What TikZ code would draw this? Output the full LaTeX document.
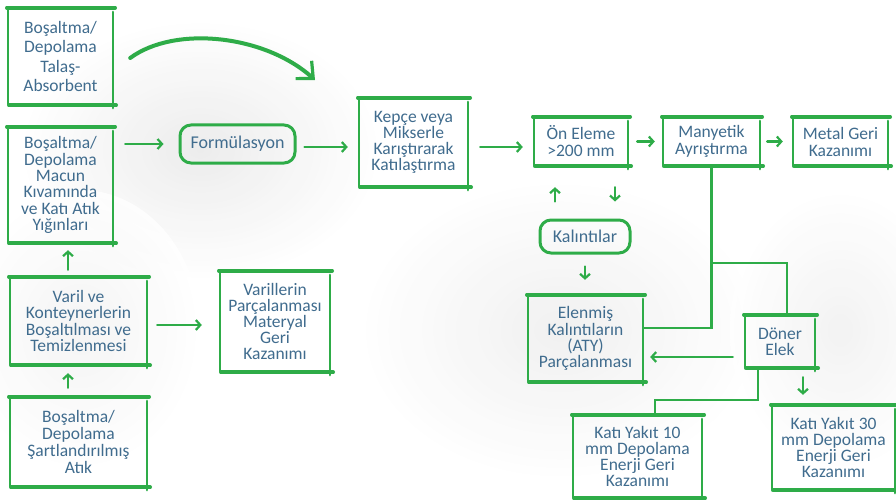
\documentclass[tikz,border=0pt]{standalone}
\usepackage{fontspec}
\setmainfont{Carlito}
\usetikzlibrary{arrows.meta,calc}
\definecolor{leaf}{RGB}{46,172,72}
\definecolor{ink}{RGB}{64,108,142}
\begin{document}
\begin{tikzpicture}[x=1pt,y=-1pt,
  every node/.style={text=ink},
  box/.style={draw=none, inner sep=0pt, align=center},
  pill/.style={draw=leaf, line width=3pt, rounded corners=11pt, inner sep=0pt, align=center, font=\fontsize{18}{16}\selectfont},
  hedge/.style={draw=leaf, line width=3.6pt, line cap=round},
  vedge/.style={draw=leaf, line width=2.2pt, line cap=round},
  link/.style={draw=leaf, line width=2.4pt},
  arr/.style={draw=leaf, line width=2.4pt, line cap=round, -{Straight Barb[length=4.5pt,width=10pt,line width=2.2pt]}},
  bigarr/.style={draw=leaf, line width=4pt, line cap=round, -{Straight Barb[length=13pt,width=24pt,line width=3.2pt]}},
  lead/.style={font=\fontsize{17.5}{#1}\selectfont}
]
\useasboundingbox (0,0) rectangle (896,500);
% page and soft grey background patches
\begin{scope}
\clip (0,0) rectangle (896,500);
\fill[white] (0,0) rectangle (896,500);
\shade[inner color=black!9, outer color=white, opacity=0.8] (200,150) ellipse (180 and 130);
\shade[inner color=black!7, outer color=white, opacity=0.8] (560,330) ellipse (200 and 150);
\shade[inner color=black!6, outer color=white, opacity=0.8] (840,330) ellipse (110 and 140);
\shade[inner color=black!5, outer color=white, opacity=0.8] (80,330) ellipse (120 and 140);
\end{scope}

% left column
\node[box, lead=19.5, minimum width=105pt, minimum height=97pt] (b1) at (60.5,56.5) {Boşaltma/\\Depolama\\Talaş-\\Absorbent};
\node[box, lead=16.3, minimum width=105pt, minimum height=116pt] (b2) at (60.5,185) {Boşaltma/\\Depolama\\Macun\\Kıvamında\\ve Katı Atık\\Yığınları};
\node[box, lead=16.2, minimum width=137pt, minimum height=88pt] (b3) at (78.5,321) {Varil ve\\Konteynerlerin\\Boşaltılması ve\\Temizlenmesi};
\node[box, lead=16.7, minimum width=137pt, minimum height=90pt] (b4) at (78.5,442) {Boşaltma/\\Depolama\\Şartlandırılmış\\Atık};
\node[box, lead=16.2, minimum width=110pt, minimum height=101pt] (b5) at (275,321.5) {Varillerin\\Parçalanması\\Materyal\\Geri\\Kazanımı};

% main line
\node[pill, minimum width=115pt, minimum height=38pt] (f) at (237.5,144) {Formülasyon};
\node[box, lead=16.2, minimum width=109pt, minimum height=89pt] (b6) at (413.5,142.5) {Kepçe veya\\Mikserle\\Karıştırarak\\Katılaştırma};
\node[box, lead=17, minimum width=94pt, minimum height=49pt] (b7) at (581,141.5) {Ön Eleme\\>200 mm};
\node[pill, minimum width=90pt, minimum height=33pt] (k) at (585,236.5) {Kalıntılar};
\node[box, lead=16.2, minimum width=115pt, minimum height=87pt] (b8) at (585.5,338.5) {Elenmiş\\Kalıntıların\\(ATY)\\Parçalanması};
\node[box, lead=17, minimum width=97pt, minimum height=49pt] (b9) at (711.5,141.5) {Manyetik\\Ayrıştırma};
\node[box, lead=17, minimum width=95pt, minimum height=49pt] (b10) at (840.5,141.5) {Metal Geri\\Kazanımı};
\node[box, lead=16.2, minimum width=70pt, minimum height=53pt] (b11) at (780,341.5) {Döner\\Elek};
\node[box, lead=16.2, minimum width=129pt, minimum height=83pt] (b12) at (637.5,456.5) {Katı Yakıt 10\\mm Depolama\\Enerji Geri\\Kazanımı};
\node[box, lead=16.2, minimum width=123pt, minimum height=85pt] (b13) at (833.5,447.5) {Katı Yakıt 30\\mm Depolama\\Enerji Geri\\Kazanımı};

% hand-drawn frames
\foreach \n in {b1,b2,b3,b4,b5,b6,b7,b8,b9,b10,b11,b12,b13}{
  \draw[hedge] ([xshift=-1pt]\n.north west) -- ([xshift=2pt]\n.north east);
  \draw[hedge] ([xshift=1pt]\n.south west) -- ([xshift=3pt]\n.south east);
  \draw[vedge] ([yshift=-2pt]\n.north west) -- ([yshift=1pt]\n.south west);
  \draw[vedge] ([yshift=-4pt]\n.north east) -- ([yshift=-3pt]\n.south east);
}

% arrows
\coordinate (hit) at (315,80);
\draw[bigarr] ([xshift=17pt,yshift=-1.5pt]b1.east) .. controls (175,25) and (265,35) .. (hit);
\draw[arr, shorten <=12pt, shorten >=15pt] (b2.east |- f.west) -- (f.west);
\draw[arr, shorten <=8pt, shorten >=11pt] ([yshift=-3pt]f.east) -- ([yshift=-3pt]b6.west |- f.east);
\draw[arr, shorten <=12pt, shorten >=11pt] ([yshift=-4.5pt]b6.east) -- ([yshift=-4.5pt]b6.east -| b7.west);
\draw[arr, shorten <=9pt, shorten >=8pt] (b7.east) -- (b9.west);
\draw[arr, shorten <=7pt, shorten >=10pt] (b9.east) -- (b10.west);
\draw[arr, shorten <=17pt, shorten >=21pt] ([xshift=-30pt]k.north) -- ([xshift=-30pt]k.north |- b7.south);
\draw[arr, shorten <=21pt, shorten >=17pt] ([xshift=30pt]k.north |- b7.south) -- ([xshift=30pt]k.north);
\draw[arr, shorten <=12pt, shorten >=15pt] (k.south) -- (k.south |- b8.north);
\draw[arr, shorten <=10pt, shorten >=18pt] ([yshift=-4pt]b3.east) -- ([yshift=-4pt]b3.east -| b5.west);
\draw[arr, shorten <=7pt, shorten >=7pt] ([xshift=-10.5pt]b3.north) -- ([xshift=-10.5pt]b3.north |- b2.south);
\draw[arr, shorten <=9pt, shorten >=8pt] ([xshift=-10.5pt]b4.north) -- ([xshift=-10.5pt]b4.north |- b3.south);
\draw[arr, shorten <=12pt, shorten >=7pt] ([yshift=-15.5pt]b11.west) -- ([yshift=-15.5pt]b11.west -| b8.east);
\draw[arr, shorten <=9pt, shorten >=10pt] ([xshift=-30.5pt]b13.north |- b11.south) -- ([xshift=-30.5pt]b13.north);

% plain connectors
\coordinate (t1) at (b9.south |- 0,263);
\draw[link] (b9.south) -- (t1) -| ([xshift=7pt]b11.north);
\draw[link] (t1) |- ([yshift=10.5pt]b8.east);
\draw[link] ([xshift=-22pt]b11.south) -- ++(0,32) -| ([xshift=17.5pt]b12.north);
\end{tikzpicture}
\end{document}
